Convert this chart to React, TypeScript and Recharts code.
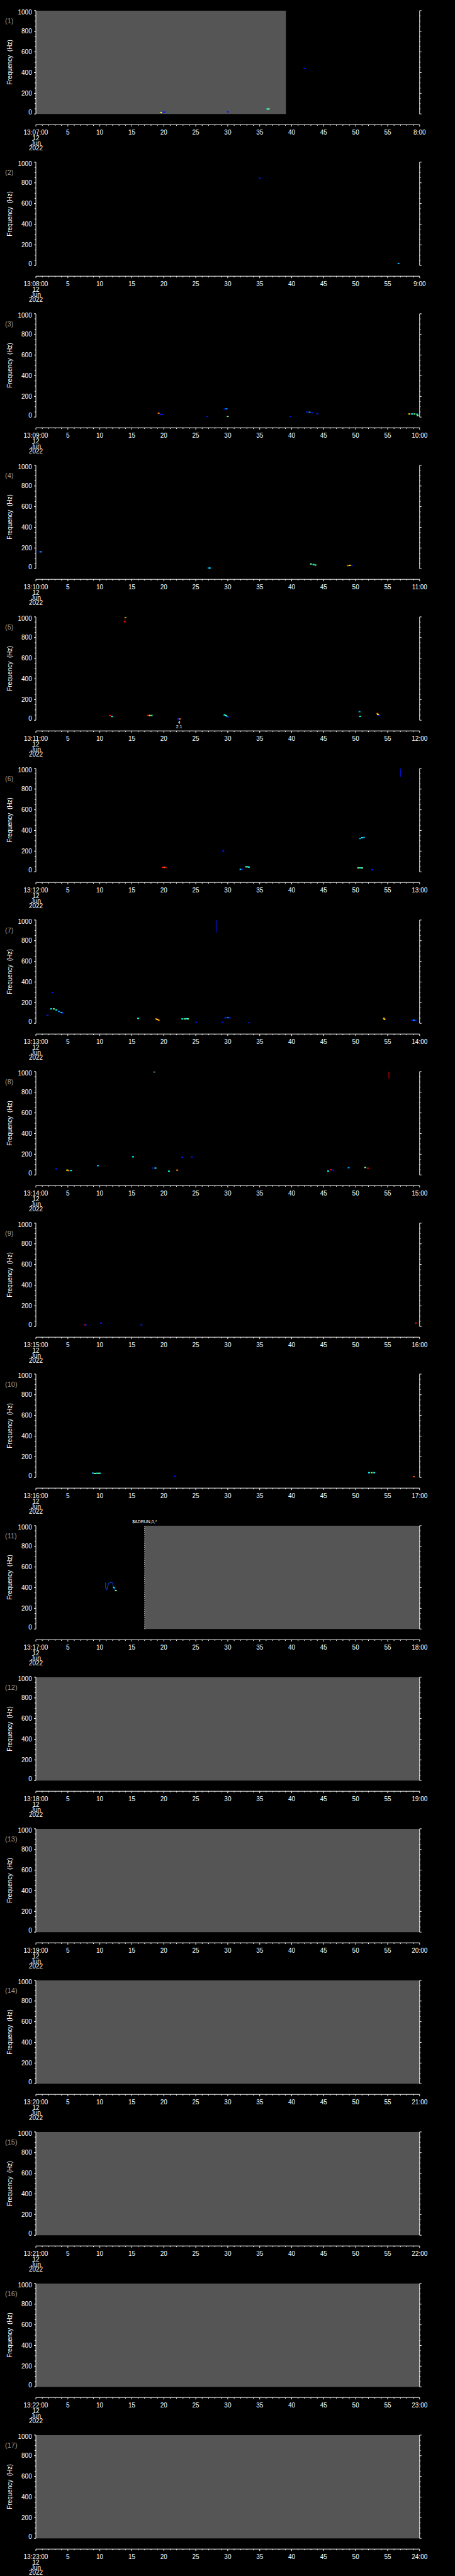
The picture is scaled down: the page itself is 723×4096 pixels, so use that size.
import React from 'react';
import {
  ComposedChart,
  XAxis,
  YAxis,
  Scatter,
  Line,
  ReferenceArea,
  ReferenceLine,
  ReferenceDot,
} from 'recharts';

// one panel per minute, 13:07 .. 13:23 on 12 Jun 2022
const panelMinutes = [7, 8, 9, 10, 11, 12, 13, 14, 15, 16, 17, 18, 19, 20, 21, 22, 23];
const dateLines = ['12', 'Jun', '2022'];

const freqTicks = [0, 50, 100, 150, 200, 250, 300, 350, 400, 450, 500, 550, 600, 650, 700, 750, 800, 850, 900, 950, 1000];
const freqLabels = [0, 200, 400, 600, 800, 1000];
const secTicks = Array.from({ length: 61 }, (_, i) => i);

// grey "no data" block, seconds into the minute (null = none)
const grayStart = [0, null, null, null, null, null, null, null, null, null, 17, 0, 0, 0, 0, 0, 0];
const grayEnd = [39.1, null, null, null, null, null, null, null, null, null, 60, 60, 60, 60, 60, 60, 60];
// dashed marker + message at start of the grey block
const markerText = [null, null, null, null, null, null, null, null, null, null, '$ADRUN,0,*', null, null, null, null, null, null];

// spectrogram hits: t = seconds, f = Hz, v = intensity (0..1)
const p1 = [
  { t: 19.6, f: 13, v: 0.63 }, { t: 19.9, f: 17, v: 0.15 }, { t: 20.1, f: 17, v: 0.15 },
  { t: 30.0, f: 20, v: 0.15 }, { t: 36.2, f: 48, v: 0.38 }, { t: 36.4, f: 48, v: 0.5 },
  { t: 42.0, f: 440, v: 0.15 },
];
const p2 = [{ t: 35.0, f: 845, v: 0.15 }, { t: 56.7, f: 20, v: 0.3 }];
const p3 = [
  { t: 19.2, f: 38, v: 0.75 }, { t: 19.5, f: 28, v: 0.15 }, { t: 19.8, f: 25, v: 0.15 },
  { t: 26.8, f: 5, v: 0.15 }, { t: 29.5, f: 77, v: 0.15 }, { t: 29.8, f: 80, v: 0.28 },
  { t: 30.0, f: 5, v: 0.5 }, { t: 39.8, f: 5, v: 0.15 }, { t: 42.4, f: 50, v: 0.15 },
  { t: 42.8, f: 47, v: 0.28 }, { t: 43.2, f: 42, v: 0.15 }, { t: 44.0, f: 33, v: 0.15 },
  { t: 58.4, f: 30, v: 0.63 }, { t: 58.8, f: 30, v: 0.38 }, { t: 59.2, f: 30, v: 0.5 },
  { t: 59.6, f: 28, v: 0.38 }, { t: 59.7, f: 15, v: 0.5 },
];
const p4 = [
  { t: 0.6, f: 163, v: 0.15 }, { t: 0.8, f: 163, v: 0.28 }, { t: 27.0, f: 5, v: 0.3 },
  { t: 27.2, f: 5, v: 0.38 }, { t: 43.0, f: 45, v: 0.5 }, { t: 43.4, f: 40, v: 0.38 },
  { t: 43.7, f: 35, v: 0.5 }, { t: 48.8, f: 30, v: 0.75 }, { t: 49.1, f: 32, v: 0.63 },
  { t: 49.4, f: 30, v: 0.15 },
];
const p5 = [
  { t: 11.6, f: 46, v: 0.88 }, { t: 11.9, f: 36, v: 0.38 }, { t: 13.9, f: 953, v: 0.88 },
  { t: 14.0, f: 1000, v: 0.63 }, { t: 17.5, f: 46, v: 0.88 }, { t: 17.8, f: 46, v: 0.63 },
  { t: 18.1, f: 46, v: 0.38 }, { t: 22.2, f: 12, v: 0.15 }, { t: 22.5, f: 12, v: 0.75 },
  { t: 29.5, f: 52, v: 0.38 }, { t: 29.7, f: 45, v: 0.5 }, { t: 29.9, f: 38, v: 0.38 },
  { t: 30.0, f: 33, v: 0.15 }, { t: 50.6, f: 83, v: 0.3 }, { t: 50.7, f: 37, v: 0.38 },
  { t: 53.4, f: 64, v: 0.75 }, { t: 53.5, f: 55, v: 0.63 }, { t: 53.7, f: 45, v: 0.15 },
];
const p6 = [
  { t: 19.8, f: 43, v: 0.88 }, { t: 20.1, f: 43, v: 0.75 }, { t: 20.3, f: 40, v: 0.88 },
  { t: 29.3, f: 202, v: 0.15 }, { t: 32.0, f: 24, v: 0.38 }, { t: 32.2, f: 24, v: 0.15 },
  { t: 32.9, f: 48, v: 0.5 }, { t: 33.1, f: 48, v: 0.38 }, { t: 33.3, f: 45, v: 0.38 },
  { t: 50.4, f: 38, v: 0.5 }, { t: 50.7, f: 38, v: 0.38 }, { t: 51.0, f: 38, v: 0.5 },
  { t: 50.7, f: 322, v: 0.3 }, { t: 51.0, f: 330, v: 0.38 }, { t: 51.3, f: 332, v: 0.28 },
  { t: 52.6, f: 20, v: 0.15 },
];
const p7 = [
  { t: 1.8, f: 77, v: 0.15 }, { t: 2.6, f: 298, v: 0.15 }, { t: 2.4, f: 140, v: 0.38 },
  { t: 2.8, f: 140, v: 0.5 }, { t: 3.2, f: 130, v: 0.38 }, { t: 3.6, f: 115, v: 0.28 },
  { t: 4.0, f: 105, v: 0.38 }, { t: 4.2, f: 100, v: 0.15 }, { t: 16.0, f: 48, v: 0.38 },
  { t: 18.8, f: 43, v: 0.75 }, { t: 19.0, f: 38, v: 0.63 }, { t: 19.2, f: 30, v: 0.75 },
  { t: 22.9, f: 43, v: 0.38 }, { t: 23.3, f: 43, v: 0.5 }, { t: 23.6, f: 45, v: 0.38 },
  { t: 23.8, f: 43, v: 0.5 }, { t: 25.1, f: 10, v: 0.15 }, { t: 29.2, f: 10, v: 0.15 },
  { t: 29.6, f: 53, v: 0.15 }, { t: 30.0, f: 55, v: 0.28 }, { t: 30.3, f: 53, v: 0.15 },
  { t: 33.3, f: 5, v: 0.15 }, { t: 54.4, f: 50, v: 0.75 }, { t: 54.5, f: 40, v: 0.63 },
  { t: 58.8, f: 30, v: 0.15 }, { t: 59.1, f: 30, v: 0.28 }, { t: 59.4, f: 28, v: 0.15 },
];
const p8 = [
  { t: 3.2, f: 59, v: 0.15 }, { t: 4.9, f: 46, v: 0.63 }, { t: 5.1, f: 42, v: 0.75 },
  { t: 5.5, f: 42, v: 0.38 }, { t: 9.7, f: 89, v: 0.3 }, { t: 15.2, f: 175, v: 0.38 },
  { t: 18.5, f: 998, v: 0.5 }, { t: 18.3, f: 66, v: 0.15 }, { t: 18.7, f: 66, v: 0.38 },
  { t: 20.8, f: 36, v: 0.38 }, { t: 22.1, f: 46, v: 0.75 }, { t: 22.9, f: 170, v: 0.15 },
  { t: 24.4, f: 174, v: 0.15 }, { t: 45.7, f: 37, v: 0.38 }, { t: 46.1, f: 49, v: 0.88 },
  { t: 46.5, f: 46, v: 0.15 }, { t: 48.9, f: 70, v: 0.28 }, { t: 51.5, f: 72, v: 0.5 },
  { t: 51.9, f: 65, v: 0.88 },
];
const p9 = [
  { t: 7.7, f: 16, v: 0.88 }, { t: 7.8, f: 16, v: 0.15 }, { t: 10.2, f: 33, v: 0.15 },
  { t: 16.5, f: 16, v: 0.15 }, { t: 59.4, f: 33, v: 0.88 },
];
const p10 = [
  { t: 8.9, f: 42, v: 0.3 }, { t: 9.2, f: 38, v: 0.5 }, { t: 9.5, f: 40, v: 0.38 },
  { t: 9.8, f: 40, v: 0.5 }, { t: 10.0, f: 40, v: 0.38 }, { t: 21.7, f: 11, v: 0.15 },
  { t: 52.1, f: 46, v: 0.38 }, { t: 52.5, f: 46, v: 0.5 }, { t: 52.9, f: 46, v: 0.38 },
  { t: 59.1, f: 7, v: 0.8 },
];
const p11 = [{ t: 12.2, f: 400, v: 0.38 }, { t: 12.5, f: 372, v: 0.5 }];

// thin traces drawn as lines
const s5 = [{ v: 0.95, pts: [{ t: 13.9, f: 953 }, { t: 14.0, f: 1000 }] }];
const s6 = [{ v: 0.15, pts: [{ t: 57.0, f: 1000 }, { t: 57.0, f: 920 }] }];
const s7 = [{ v: 0.15, pts: [{ t: 28.2, f: 1000 }, { t: 28.2, f: 880 }] }];
const s8 = [{ v: 0.88, pts: [{ t: 55.2, f: 1000 }, { t: 55.2, f: 934 }] }];
const s11 = [
  {
    v: 0.2,
    pts: [
      { t: 10.9, f: 450 }, { t: 10.9, f: 392 }, { t: 11.1, f: 378 }, { t: 11.2, f: 410 },
      { t: 11.4, f: 445 }, { t: 11.8, f: 452 }, { t: 12.0, f: 448 }, { t: 12.1, f: 415 },
      { t: 12.3, f: 385 }, { t: 12.5, f: 372 },
    ],
  },
];

// small annotation under the panel 5 hit
const p5Notes = [{ t: 22.4, lines: ['4', '2.1'] }];

const panelPoints = [p1, p2, p3, p4, p5, p6, p7, p8, p9, p10, p11, [], [], [], [], [], []];
const panelStrokes = [[], [], [], [], s5, s6, s7, s8, [], [], s11, [], [], [], [], [], []];
const panelNotes = [[], [], [], [], p5Notes, [], [], [], [], [], [], [], [], [], [], [], []];

const CHART_W = 723;
const PANEL_H = 4096 / 17;
const PLOT_TOP = 16.9;
const PLOT_H = 164.3;
const LEFT_W = 57;
const RIGHT_W = 56.2;
const GAP_H = 17;
const TIME_H = PANEL_H - PLOT_TOP - PLOT_H - GAP_H;
const FONT = '"Liberation Sans", Arial, sans-serif';

function jet(v: number) {
  const c = (x: number) => Math.round(255 * Math.max(0, Math.min(1, x)));
  const r = c(1.5 - Math.abs(4 * v - 3));
  const g = c(1.5 - Math.abs(4 * v - 2));
  const b = c(1.5 - Math.abs(4 * v - 1));
  return `rgb(${r},${g},${b})`;
}

function TimeTick(props: any) {
  const { x, y, payload, minute } = props;
  const v = payload.value;
  const major = v % 5 === 0;
  let lines: string[] = [];
  if (v === 0) lines = [`13:${String(minute).padStart(2, '0')}:00`, ...dateLines];
  else if (v === 60) lines = [`${minute + 1}:00`];
  else if (major) lines = [String(v)];
  const offs = [15.8, 24.4, 32.7, 41.0];
  return (
    <g>
      <line x1={x} x2={x} y1={y} y2={y + (major ? 3 : 1.9)} stroke='#fff' strokeWidth={1} />
      {lines.map((s, i) => (
        <text key={i} x={x} y={y + offs[i]} textAnchor='middle' fill='#fff' fontSize={10} fontFamily={FONT}>
          {s}
        </text>
      ))}
    </g>
  );
}

function LeftTick(props: any) {
  const { x, y, payload } = props;
  const v = payload.value;
  const major = freqLabels.includes(v);
  const dy = v === 1000 ? 3 : v === 0 ? -3 : 0;
  return (
    <g>
      <line x1={x} x2={x - (major ? 3 : 2)} y1={y} y2={y} stroke='#fff' strokeWidth={1} />
      {major && (
        <text x={x - 6.3} y={y + dy + 3.6} textAnchor='end' fill='#fff' fontSize={10} fontFamily={FONT}>
          {v}
        </text>
      )}
    </g>
  );
}

function RightTick(props: any) {
  const { x, y, payload } = props;
  const major = freqLabels.includes(payload.value);
  return <line x1={x} x2={x + (major ? 3 : 1.5)} y1={y} y2={y} stroke='#fff' strokeWidth={1} />;
}

function HitShape(props: any) {
  const { cx, cy } = props;
  const d = props.payload ?? props;
  if (cx == null || cy == null) return null;
  return <rect x={cx - 1.5} y={cy - 1} width={3} height={2} fill={jet(d.v)} />;
}

function Panel({ idx }: { idx: number }) {
  const minute = panelMinutes[idx];
  const g0 = grayStart[idx];
  const g1 = grayEnd[idx];
  const marker = markerText[idx];

  return (
    <div style={{ width: CHART_W, height: PANEL_H }}>
      <ComposedChart
        width={CHART_W}
        height={PANEL_H}
        margin={{ top: PLOT_TOP, right: 0, bottom: 0, left: 0 }}
      >
        <XAxis
          xAxisId='gap'
          type='number'
          dataKey='t'
          domain={[0, 60]}
          allowDataOverflow
          height={GAP_H}
          axisLine={false}
          tickLine={false}
          tick={false}
        />
        <XAxis
          xAxisId='time'
          type='number'
          dataKey='t'
          domain={[0, 60]}
          allowDataOverflow
          ticks={secTicks}
          interval={0}
          height={TIME_H}
          axisLine={{ stroke: '#fff', strokeWidth: 1 }}
          tickLine={false}
          tickSize={0}
          tickMargin={0}
          tick={(p: any) => <TimeTick {...p} minute={minute} />}
        />
        <YAxis
          yAxisId='left'
          type='number'
          dataKey='f'
          domain={[0, 1000]}
          allowDataOverflow
          ticks={freqTicks}
          interval={0}
          width={LEFT_W}
          axisLine={{ stroke: '#fff', strokeWidth: 1 }}
          tickLine={false}
          tickSize={0}
          tickMargin={0}
          tick={(p: any) => <LeftTick {...p} />}
          label={{
            content: (lp: any) => {
              const vb = lp.viewBox || { x: 0, y: PLOT_TOP, height: PLOT_H };
              const cx = vb.x + 18.5;
              const cy = vb.y + vb.height / 2;
              return (
                <g>
                  <text x={vb.x + 8} y={vb.y + 20} fill='#9a9a9a' fontSize={11} fontFamily={FONT}>
                    ({idx + 1})
                  </text>
                  <text
                    x={cx}
                    y={cy}
                    transform={`rotate(-90, ${cx}, ${cy})`}
                    textAnchor='middle'
                    fill='#fff'
                    fontSize={10}
                    fontFamily={FONT}
                    style={{ whiteSpace: 'pre' }}
                  >
                    Frequency  (Hz)
                  </text>
                </g>
              );
            },
          }}
        />
        <YAxis
          yAxisId='right'
          orientation='right'
          type='number'
          dataKey='f'
          domain={[0, 1000]}
          allowDataOverflow
          ticks={freqTicks}
          interval={0}
          width={RIGHT_W}
          axisLine={{ stroke: '#fff', strokeWidth: 1 }}
          tickLine={false}
          tickSize={0}
          tickMargin={0}
          tick={(p: any) => <RightTick {...p} />}
        />

        {g0 != null && g1 != null && (
          <ReferenceArea
            xAxisId='time'
            yAxisId='left'
            x1={g0}
            x2={g1}
            y1={0}
            y2={1000}
            fill='#555555'
            fillOpacity={1}
            stroke='none'
          />
        )}

        {marker && g0 != null && (
          <ReferenceLine
            xAxisId='time'
            yAxisId='left'
            x={g0}
            stroke='#fff'
            strokeDasharray='1 2'
            label={{
              content: (lp: any) => {
                const vb = lp.viewBox || { x: 0, y: PLOT_TOP };
                return (
                  <text x={vb.x} y={vb.y - 3.5} textAnchor='middle' fill='#fff' fontSize={7} fontFamily={FONT}>
                    {marker}
                  </text>
                );
              },
            }}
          />
        )}

        {panelStrokes[idx].map((s, i) => (
          <Line
            key={`s${i}`}
            xAxisId='time'
            yAxisId='left'
            data={s.pts}
            dataKey='f'
            stroke={jet(s.v)}
            strokeWidth={1}
            dot={false}
            activeDot={false}
            isAnimationActive={false}
          />
        ))}

        <Scatter
          xAxisId='time'
          yAxisId='left'
          data={panelPoints[idx]}
          shape={(p: any) => <HitShape {...p} />}
          isAnimationActive={false}
        />

        {panelNotes[idx].map((n, i) => (
          <ReferenceDot
            key={`n${i}`}
            xAxisId='time'
            yAxisId='left'
            x={n.t}
            y={0}
            r={0}
            fill='none'
            stroke='none'
            ifOverflow='visible'
            label={{
              content: (lp: any) => {
                const vb = lp.viewBox || { x: 0, y: 0, width: 0, height: 0 };
                const x = vb.x + (vb.width || 0) / 2;
                const y = vb.y + (vb.height || 0) / 2;
                return (
                  <g>
                    {n.lines.map((s, j) => (
                      <text key={j} x={x} y={y + 6 + j * 6.7} textAnchor='middle' fill='#fff' fontSize={7} fontFamily={FONT}>
                        {s}
                      </text>
                    ))}
                  </g>
                );
              },
            }}
          />
        ))}
      </ComposedChart>
    </div>
  );
}

export default function App() {
  return (
    <div style={{ width: CHART_W, background: '#000' }}>
      <style>{'body{margin:0;background:#000;}'}</style>
      {panelMinutes.map((_, i) => (
        <Panel key={i} idx={i} />
      ))}
    </div>
  );
}
